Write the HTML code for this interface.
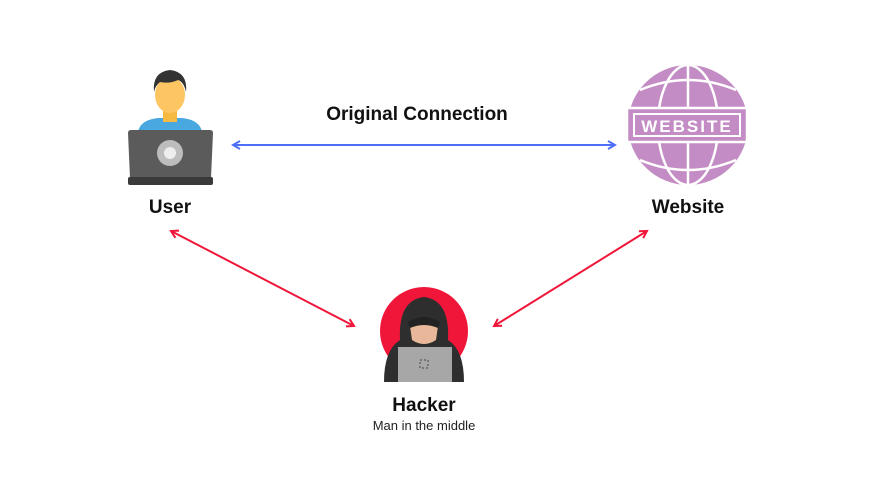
<!DOCTYPE html>
<html><head><style>
body{margin:0;background:#fff;}
svg{display:block}
text{font-family:"Liberation Sans",sans-serif;}
</style></head><body>
<svg width="880" height="480" viewBox="0 0 880 480">
<defs>
<marker id="ab" markerWidth="10" markerHeight="10" refX="8" refY="5" orient="auto-start-reverse" markerUnits="userSpaceOnUse"><path d="M1,1 L8,5 L1,9" fill="none" stroke="#4f6ef7" stroke-width="2"/></marker>
<marker id="ar" markerWidth="10" markerHeight="10" refX="8" refY="5" orient="auto-start-reverse" markerUnits="userSpaceOnUse"><path d="M1,1 L8,5 L1,9" fill="none" stroke="#f0163a" stroke-width="2"/></marker>
</defs>
<!-- User -->
<path d="M138,132 Q140,120 158,118 L182,118 Q200,120 202,132 Z" fill="#4aa8e0"/>
<rect x="163" y="108" width="14" height="14" fill="#f5b944"/>
<ellipse cx="170" cy="95" rx="15" ry="18" fill="#fdc663"/>
<path d="M154,92 Q152,72 170,70 Q188,72 186,92 Q184,82 178,80 Q170,84 160,82 Q155,86 154,92Z" fill="#333"/>
<path d="M128,133 Q128,130 131,130 L210,130 Q213,130 213,133 L211,178 L130,178 Z" fill="#5b5b5b"/>
<rect x="128" y="177" width="85" height="8" rx="2" fill="#3a3a3a"/>
<circle cx="170" cy="153" r="13" fill="#bdbdbd"/>
<circle cx="170" cy="153" r="6" fill="#eee"/>
<!-- Website -->
<circle cx="688" cy="125" r="60" fill="#c48cc4"/>
<g fill="none" stroke="#fff" stroke-width="2.5">
<line x1="688" y1="65" x2="688" y2="185"/>
<ellipse cx="688" cy="125" rx="30" ry="60"/>
<path d="M640,90 Q688,70 736,90"/><path d="M640,160 Q688,180 736,160"/>
</g>
<rect x="627" y="108" width="120" height="34" fill="#c48cc4" stroke="#fff" stroke-width="2.5"/>
<rect x="634" y="114" width="106" height="22" fill="none" stroke="#fff" stroke-width="2"/>
<text x="687" y="132" font-size="17" font-weight="bold" fill="#fff" text-anchor="middle" letter-spacing="2" font-family="Liberation Mono, monospace">WEBSITE</text>
<!-- Hacker -->
<circle cx="424" cy="331" r="44" fill="#f0163a"/>
<path d="M384,382 Q384,350 400,340 Q398,300 424,297 Q450,300 448,340 Q464,350 464,382 Z" fill="#2e2e2e"/>
<path d="M410,326 Q424,316 438,326 L436,340 Q424,348 412,340 Z" fill="#e9b89a"/>
<path d="M408,322 Q424,312 440,322 L438,328 Q424,322 410,328Z" fill="#222"/>
<rect x="398" y="347" width="54" height="35" fill="#a7a7a7"/>
<rect x="420" y="360" width="8" height="8" fill="none" stroke="#444" stroke-width="1" stroke-dasharray="2,2"/>
<!-- Arrows -->
<line x1="233" y1="145" x2="615" y2="145" stroke="#4f6ef7" stroke-width="2" marker-start="url(#ab)" marker-end="url(#ab)"/>
<line x1="171" y1="231" x2="354" y2="326" stroke="#f0163a" stroke-width="2" marker-start="url(#ar)" marker-end="url(#ar)"/>
<line x1="494" y1="326" x2="647" y2="231" stroke="#f0163a" stroke-width="2" marker-start="url(#ar)" marker-end="url(#ar)"/>
<!-- Labels -->
<text x="417" y="120" font-size="19" font-weight="bold" text-anchor="middle" fill="#111">Original Connection</text>
<text x="170" y="213" font-size="19" font-weight="bold" text-anchor="middle" fill="#111">User</text>
<text x="688" y="213" font-size="19" font-weight="bold" text-anchor="middle" fill="#111">Website</text>
<text x="424" y="411" font-size="19" font-weight="bold" text-anchor="middle" fill="#111">Hacker</text>
<text x="424" y="430" font-size="13" text-anchor="middle" fill="#222">Man in the middle</text>
</svg>
</body></html>
